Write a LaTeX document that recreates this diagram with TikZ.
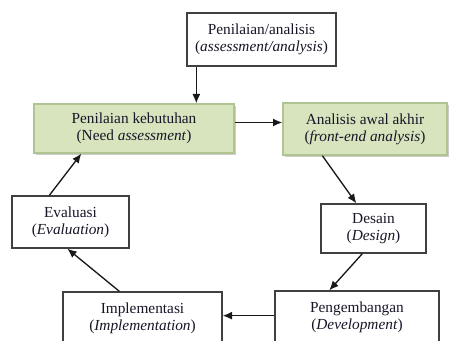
\documentclass[tikz,border=0pt]{standalone}
\usepackage{fontspec}
\setmainfont{Liberation Serif}
\usetikzlibrary{arrows.meta,shadows}
\definecolor{kotakhijau}{RGB}{215,228,189}
\definecolor{garishijau}{RGB}{176,196,146}
\definecolor{teks}{RGB}{22,22,40}
\begin{document}
\begin{tikzpicture}[x=0.75pt, y=-0.75pt,
    kotak/.style={draw=black!75, line width=1pt, fill=white, align=center, text=teks,
        font=\fontsize{11.5}{12.75}\selectfont, inner sep=2pt},
    kotakutama/.style={kotak, draw=garishijau, fill=kotakhijau,
        drop shadow={shadow xshift=1.5pt, shadow yshift=-1.5pt, fill=black!40}},
    panah/.style={black!90, line width=1pt, -{Latex[length=7pt,width=6pt]}}]
    \useasboundingbox (0,0) rectangle (451,341);
    \clip (0,0) rectangle (451,341);
    % kotak-kotak
    \node[kotak, minimum width=111.75pt, minimum height=39.75pt] (penilaian) at (261.5,39.5)
        {Penilaian/analisis\\(\textit{assessment/analysis})};
    \node[kotakutama, minimum width=150pt, minimum height=36.75pt] (kebutuhan) at (134,128.5)
        {Penilaian kebutuhan\\(Need \textit{assessment})};
    \node[kotakutama, minimum width=123pt, minimum height=39pt] (analisis) at (365,129)
        {Analisis awal akhir\\(\textit{front-end analysis})};
    \node[kotak, minimum width=78.75pt, minimum height=36.75pt] (desain) at (373.5,228.5)
        {Desain\\(\textit{Design})};
    \node[kotak, minimum width=123pt, minimum height=39pt] (pengembangan) at (357,317)
        {Pengembangan\\(\textit{Development})};
    \node[kotak, minimum width=119.25pt, minimum height=39pt] (implementasi) at (142.5,318)
        {Implementasi\\(\textit{Implementation})};
    \node[kotak, minimum width=87.75pt, minimum height=39pt] (evaluasi) at (70.5,222)
        {Evaluasi\\(\textit{Evaluation})};
    % panah
    \draw[panah] ([xshift=7.5pt]penilaian.south west) -- ([xshift=7.5pt]penilaian.south west |- kebutuhan.north);
    \draw[panah] ([yshift=4.5pt]kebutuhan.east) -- ([yshift=4.5pt]kebutuhan.east -| analisis.west);
    \draw[panah] ([xshift=30pt]analisis.south west) -- ([xshift=27pt]desain.north west);
    \draw[panah] ([xshift=31.5pt]desain.south west) -- ([xshift=41.25pt]pengembangan.north west);
    \draw[panah] ([yshift=1pt]pengembangan.west) -- ([yshift=1pt]pengembangan.west -| implementasi.east);
    \draw[panah] ([xshift=42.75pt]implementasi.north west) -- ([xshift=42pt]evaluasi.south west);
    \draw[panah] ([xshift=28.5pt]evaluasi.north west) -- ([xshift=36pt]kebutuhan.south west);
\end{tikzpicture}
\end{document}
